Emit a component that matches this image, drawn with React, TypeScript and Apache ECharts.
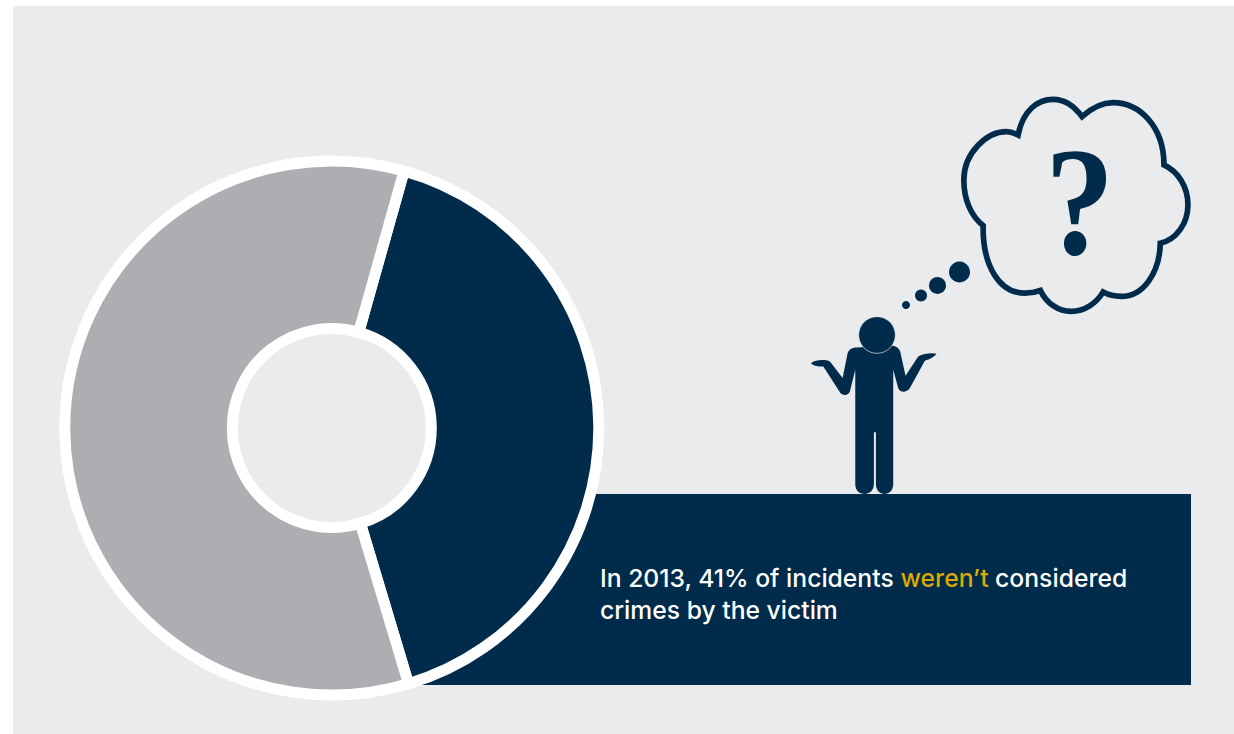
import React, { useEffect, useRef } from "react";
import * as echarts from "echarts";

const categories = ["Not considered crimes by the victim", "Considered crimes by the victim"];
const shares = [41, 59];
const sliceColors = ["#002B4B", "#ADAEB2"];
const lineOneA = "In 2013, 41% of incidents ";
const lineOneB = "weren’t";
const lineOneC = " considered";
const lineTwo = "crimes by the victim";

const NAVY = "#002B4B";
const PANEL = "#EAEBED";

const cloudPath =
  "M685,165 C700,90 745,58 790,58 C825,58 855,80 877,110 C905,85 935,68 970,68 C1050,68 1123,140 1123,255 " +
  "C1165,275 1195,320 1195,375 C1195,430 1160,480 1112,490 C1110,580 1060,650 995,650 C975,650 955,645 940,637 " +
  "C920,670 885,695 845,695 C805,695 770,670 752,632 C735,638 720,640 705,640 C630,640 578,560 580,437 " +
  "C545,410 522,360 522,300 C522,220 590,155 650,155 C662,155 675,160 685,165 Z";

const bodyPath =
  "M200,803 L310,798 C325,800 333,815 333,825 L347,888 L385,830 C400,822 425,818 440,822 C430,835 415,840 405,843 " +
  "L360,925 C350,940 330,940 325,925 L310,870 L310,1213 C310,1233 298,1243 284,1243 C270,1243 258,1233 258,1213 " +
  "L258,1058 L252,1058 L252,1213 C252,1233 238,1243 224,1243 C208,1243 196,1233 196,1213 L196,870 L180,935 " +
  "C175,950 155,950 148,935 L100,860 C90,862 70,860 63,850 C75,840 105,838 120,845 L158,895 L172,825 C175,810 185,803 200,803 Z";

echarts.graphic.registerShape("thoughtCloud", echarts.graphic.extendPath(cloudPath, {}));
echarts.graphic.registerShape("shrugBody", echarts.graphic.extendPath(bodyPath, {}));

export default function App() {
  const ref = useRef<HTMLDivElement>(null);
  useEffect(() => {
    document.body.style.margin = "0";
    document.body.style.overflow = "hidden";
    const chart = echarts.init(ref.current!, null, { renderer: "svg" });
    const scale = { x: 790, y: 80, scaleX: 1 / 3, scaleY: 1 / 3 };
    chart.setOption({
      animation: false,
      backgroundColor: "#FFFFFF",
      tooltip: { show: false },
      legend: { show: false },
      graphic: [
        { type: "rect", z: -10, silent: true, shape: { x: 13, y: 6, width: 1221, height: 728 }, style: { fill: PANEL } },
        { type: "rect", z: -9, silent: true, shape: { x: 400, y: 494, width: 791, height: 191 }, style: { fill: NAVY } },
        { type: "thoughtCloud", ...scale, z: 5, silent: true, style: { fill: "none", stroke: NAVY, lineWidth: 17, lineJoin: "miter" } },
        {
          type: "text", z: 5, silent: true, x: 1045, y: 125, scaleX: 0.9,
          style: { text: "?", fill: NAVY, font: "bold 154px 'Liberation Serif'" },
        },
        { type: "circle", z: 5, silent: true, shape: { cx: 906, cy: 305, r: 4 }, style: { fill: NAVY } },
        { type: "circle", z: 5, silent: true, shape: { cx: 921, cy: 295.5, r: 6 }, style: { fill: NAVY } },
        { type: "circle", z: 5, silent: true, shape: { cx: 937.5, cy: 285.5, r: 8.5 }, style: { fill: NAVY } },
        { type: "circle", z: 5, silent: true, shape: { cx: 959.5, cy: 272, r: 10.5 }, style: { fill: NAVY } },
        { type: "shrugBody", ...scale, z: 5, silent: true, style: { fill: NAVY } },
        { type: "circle", z: 6, silent: true, shape: { cx: 877, cy: 335, r: 18.3 }, style: { fill: NAVY, stroke: PANEL, lineWidth: 0.7 } },
        {
          type: "text", z: 7, silent: true, left: 600, top: 565,
          style: {
            text: `{w|${lineOneA}}{y|${lineOneB}}{w|${lineOneC}}\n{w|${lineTwo}}`,
            rich: {
              w: { fill: "#FFFFFF", font: "500 24.7px Inter", lineHeight: 32.5 },
              y: { fill: "#DDA800", font: "500 24.7px Inter", lineHeight: 32.5 },
            },
          },
        },
      ],
      series: [
        {
          type: "pie",
          center: [331.8, 428],
          radius: [99.5, 267],
          startAngle: 74.3,
          clockwise: true,
          silent: true,
          label: { show: false },
          labelLine: { show: false },
          itemStyle: { borderColor: "#FFFFFF", borderWidth: 11, borderJoin: "miter" },
          data: categories.map((name, i) => ({
            name,
            value: shares[i],
            itemStyle: { color: sliceColors[i] },
          })),
        },
      ],
    });
    return () => chart.dispose();
  }, []);
  return <div ref={ref} style={{ width: 1234, height: 734 }} />;
}
